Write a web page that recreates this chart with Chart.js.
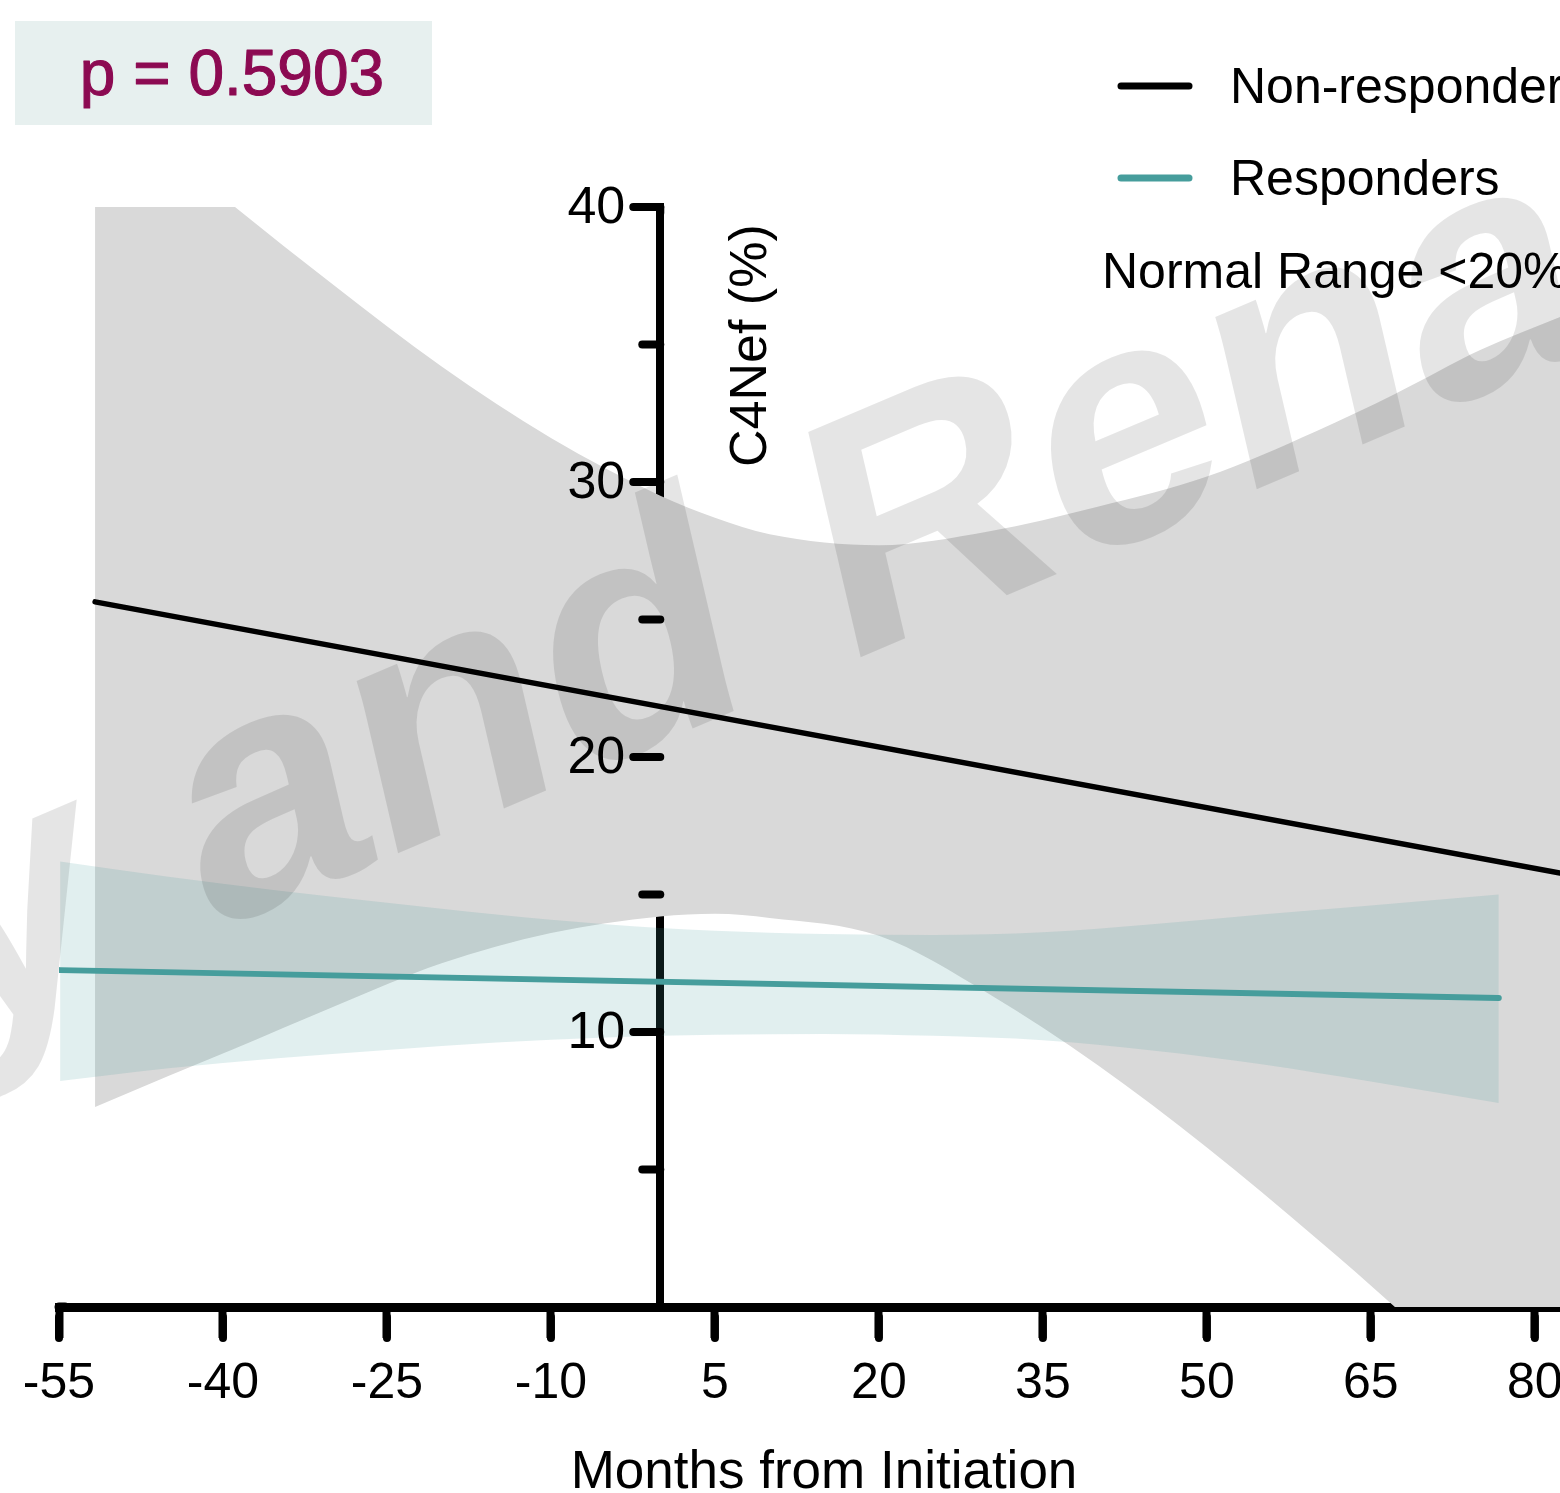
<!DOCTYPE html>
<html><head><meta charset="utf-8">
<script src="https://cdn.jsdelivr.net/npm/chart.js@4.4.1/dist/chart.umd.min.js"></script>
<style>html,body{margin:0;padding:0;background:#fff;overflow:hidden}canvas{display:block}</style>
</head><body>
<canvas id="c" width="1560" height="1493"></canvas>
<script>
// ---- data ----
const xTicks = [-55, -40, -25, -10, 5, 20, 35, 50, 65, 80];
const yTicks = [10, 20, 30, 40];
const yMinorTicks = [5, 15, 25, 35];

const nonRespX = [-51.7, 82.3];
const nonRespY = [25.64, 15.78];
const respX = [-54.9, 76.7];
const respY = [12.25, 11.24];

const nonBandX     = [-51.7, -45, -38.9, -30, -20, -10, 0, 5, 10, 20, 30, 40, 50, 60, 67.2, 75, 82.3];
const nonBandUpper = [44.4, 42.0, 40.0, 37.2, 34.2, 31.6, 29.5, 28.7, 28.1, 27.7, 28.2, 29.1, 30.2, 31.85, 33.2, 34.8, 36.0];
const nonBandLower = [7.27, 8.4, 9.4, 10.9, 12.5, 13.6, 14.2, 14.3, 14.15, 13.5, 11.4, 8.8, 5.8, 2.5, 0, -2.9, -5.6];

const respBandX     = [-54.9, -45, -35, -25, -15, -5, 5, 15, 25, 35, 45, 55, 65, 76.7];
const respBandUpper = [16.2, 15.65, 15.15, 14.7, 14.27, 13.92, 13.68, 13.56, 13.53, 13.63, 13.92, 14.27, 14.6, 15.0];
const respBandLower = [8.22, 8.68, 9.05, 9.35, 9.62, 9.8, 9.9, 9.93, 9.86, 9.7, 9.33, 8.83, 8.2, 7.42];

const seriesNames = ['Non-responders', 'Responders'];
const pText = 'p = 0.5903';
const normalText = 'Normal Range <20%';
const xTitle = 'Months from Initiation';
const yTitle = 'C4Nef (%)';
const watermarkLeft = 'y and ';
const watermarkRight = 'Renal';

const BLACK = '#000000';
const TEAL = '#469d9c';
const FONT = "'Liberation Sans', Arial, sans-serif";

const pts = (xs, ys) => xs.map((v, i) => ({x: v, y: ys[i]}));

const deco = {
  id: 'deco',
  afterDraw(chart) {
    const {ctx, scales: {x, y}} = chart;
    ctx.save();
    const x0 = x.getPixelForValue(0);
    // y ticks (major + minor) and labels
    ctx.strokeStyle = BLACK; ctx.lineWidth = 8; ctx.lineCap = 'round';
    yMinorTicks.forEach(v => {
      const py = y.getPixelForValue(v);
      ctx.beginPath(); ctx.moveTo(x0, py); ctx.lineTo(x0 - 18, py); ctx.stroke();
    });
    ctx.fillStyle = BLACK;
    ctx.font = '52px ' + FONT;
    ctx.textAlign = 'right'; ctx.textBaseline = 'middle';
    yTicks.forEach(v => {
      const py = y.getPixelForValue(v);
      ctx.beginPath(); ctx.moveTo(x0, py); ctx.lineTo(x0 - 27, py); ctx.stroke();
      ctx.fillText(String(v), x0 - 35, py + 2);
    });
    // rounded ends of the x ticks and axis start
    const yb = y.getPixelForValue(0);
    xTicks.forEach(v => {
      const px = x.getPixelForValue(v);
      ctx.beginPath(); ctx.moveTo(px, yb + 10); ctx.lineTo(px, yb + 31); ctx.stroke();
    });
    ctx.lineWidth = 9;
    ctx.beginPath(); ctx.moveTo(x.getPixelForValue(-55), yb); ctx.lineTo(x.getPixelForValue(-55) + 6, yb); ctx.stroke();
    ctx.lineWidth = 8;
    ctx.beginPath(); ctx.moveTo(x0, y.getPixelForValue(40)); ctx.lineTo(x0, y.getPixelForValue(40) + 6); ctx.stroke();
    ctx.textBaseline = 'alphabetic';
    // p-value box
    ctx.fillStyle = '#e7f0ef';
    ctx.fillRect(15, 21, 417, 104);
    ctx.fillStyle = '#8c0a52';
    ctx.strokeStyle = '#8c0a52';
    ctx.lineWidth = 1.1; ctx.lineJoin = 'round';
    ctx.font = '64px ' + FONT;
    ctx.textAlign = 'center';
    ctx.fillText(pText, 232, 95);
    ctx.strokeText(pText, 232, 95);
    // legend
    ctx.lineCap = 'round'; ctx.lineWidth = 7;
    ctx.strokeStyle = BLACK;
    ctx.beginPath(); ctx.moveTo(1121, 86); ctx.lineTo(1189, 86); ctx.stroke();
    ctx.strokeStyle = TEAL;
    ctx.beginPath(); ctx.moveTo(1121, 178); ctx.lineTo(1189, 178); ctx.stroke();
    ctx.fillStyle = BLACK;
    ctx.font = '50px ' + FONT;
    ctx.textAlign = 'left';
    ctx.fillText(seriesNames[0], 1230, 103);
    ctx.fillText(seriesNames[1], 1230, 195);
    ctx.fillText(normalText, 1102, 288);
    // axis titles
    ctx.font = '53px ' + FONT;
    ctx.textAlign = 'center';
    ctx.fillText(xTitle, 824, 1488);
    ctx.save();
    ctx.translate(766, 467);
    ctx.rotate(-Math.PI / 2);
    ctx.textAlign = 'left';
    ctx.font = '52px ' + FONT;
    ctx.fillText(yTitle, 0, 0);
    ctx.restore();
    // watermark
    ctx.save();
    ctx.setTransform(0.92, -0.39, 0.227, 0.974, 840, 666);
    ctx.fillStyle = 'rgba(0,0,0,0.1)';
    ctx.font = 'bold 336px ' + FONT;
    ctx.textAlign = 'right';
    ctx.fillText(watermarkLeft, 0, 0);
    ctx.textAlign = 'left';
    ctx.fillText(watermarkRight, 0, 0);
    ctx.restore();
    ctx.restore();
  }
};

Chart.defaults.font.family = FONT;
Chart.defaults.color = BLACK;

new Chart(document.getElementById('c'), {
  type: 'line',
  data: {
    datasets: [
      {label: 'nbU', data: pts(nonBandX, nonBandUpper), fill: '+1', backgroundColor: '#d9d9d9', borderWidth: 0, pointRadius: 0, cubicInterpolationMode: 'monotone', order: 10},
      {label: 'nbL', data: pts(nonBandX, nonBandLower), fill: false, borderWidth: 0, pointRadius: 0, cubicInterpolationMode: 'monotone', order: 11},
      {label: 'rbU', data: pts(respBandX, respBandUpper), fill: '+1', backgroundColor: 'rgba(68,156,156,0.16)', borderWidth: 0, pointRadius: 0, cubicInterpolationMode: 'monotone', order: 8},
      {label: 'rbL', data: pts(respBandX, respBandLower), fill: false, borderWidth: 0, pointRadius: 0, cubicInterpolationMode: 'monotone', order: 9},
      {label: seriesNames[0], data: pts(nonRespX, nonRespY), borderColor: BLACK, borderWidth: 5.5, pointRadius: 0, fill: false, borderCapStyle: 'round', order: 2},
      {label: seriesNames[1], data: pts(respX, respY), borderColor: TEAL, borderWidth: 6, pointRadius: 0, fill: false, borderCapStyle: 'round', order: 1}
    ]
  },
  options: {
    responsive: false,
    animation: false,
    events: [],
    layout: {padding: {left: 59, right: 0, top: 207, bottom: 0}},
    plugins: {legend: {display: false}, tooltip: {enabled: false}, title: {display: false}},
    scales: {
      x: {
        type: 'linear', position: 'bottom', min: -55, max: 82.3, z: 1,
        afterBuildTicks: s => { s.ticks = xTicks.map(v => ({value: v})); },
        afterFit: s => { s.height = 186; s.paddingLeft = 0; s.paddingRight = 0; },
        border: {display: true, color: BLACK, width: 9},
        grid: {drawOnChartArea: false, drawTicks: true, tickLength: 31, tickWidth: 8, tickColor: BLACK},
        ticks: {font: {size: 50}, color: BLACK, padding: 16, maxRotation: 0, autoSkip: false, callback: v => String(v)}
      },
      y: {
        type: 'linear', position: {x: 0}, min: 0, max: 40, z: 1,
        afterBuildTicks: s => { s.ticks = yTicks.map(v => ({value: v})); },
        border: {display: true, color: BLACK, width: 8},
        grid: {drawOnChartArea: false, drawTicks: false, tickColor: 'rgba(0,0,0,0)'},
        ticks: {display: false}
      }
    }
  },
  plugins: [deco]
});
</script>
</body></html>
